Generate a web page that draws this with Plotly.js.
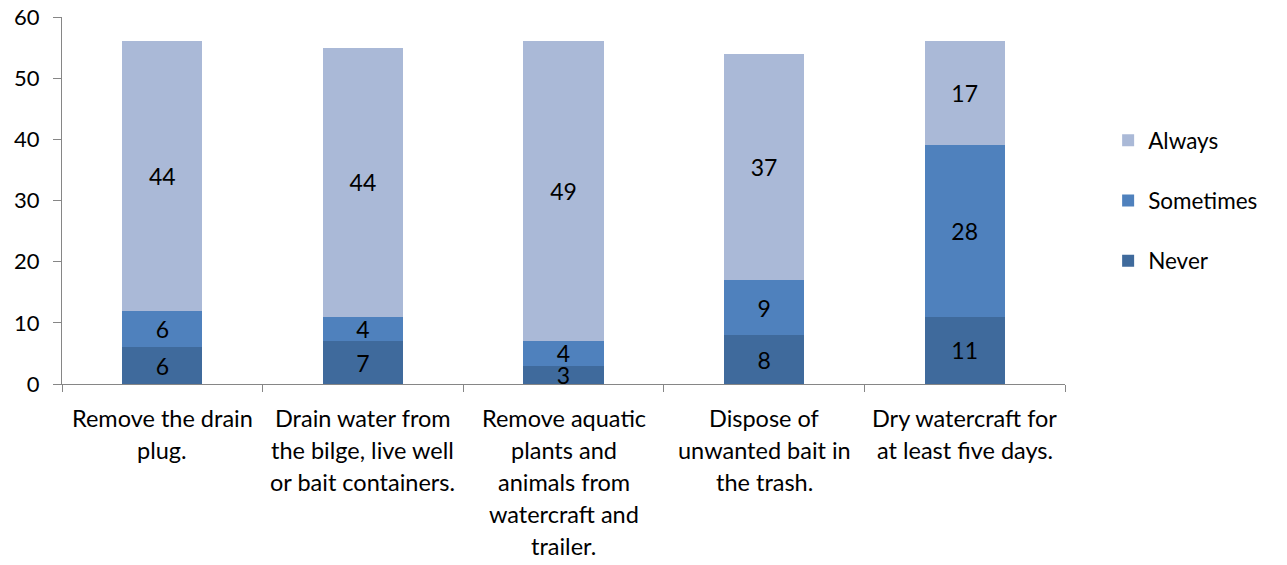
<!DOCTYPE html>
<html>
<head>
<meta charset="utf-8">
<script src="https://cdn.plot.ly/plotly-3.0.1.min.js"></script>
<style>
html,body{margin:0;padding:0;background:#fff;}
#chart{width:1287px;height:565px;}
</style>
</head>
<body>
<div id="chart"></div>
<script>
var categories = [
  "Remove the drain<br>plug.",
  "Drain water from<br>the bilge, live well<br>or bait containers.",
  "Remove aquatic<br>plants and<br>animals from<br>watercraft and<br>trailer.",
  "Dispose of<br>unwanted bait in<br>the trash.",
  "Dry watercraft for<br>at least five days."
];
var never = [6, 7, 3, 8, 11];
var sometimes = [6, 4, 4, 9, 28];
var always = [44, 44, 49, 37, 17];
var seriesNames = ["Never", "Sometimes", "Always"];
var seriesColors = ["#3F6A9C", "#4F81BD", "#AAB9D7"];
var legendRanks = [3, 2, 1];
var yTicks = [0, 10, 20, 30, 40, 50, 60];

var FONT = "Lato, 'Open Sans', sans-serif";
var catIdx = categories.map(function(_, i){ return i; });

var seriesValues = [never, sometimes, always];
var traces = seriesValues.map(function(vals, k){
  return {
    type: "bar",
    name: seriesNames[k],
    legendgroup: seriesNames[k],
    legendrank: legendRanks[k],
    x: catIdx,
    y: vals,
    width: 0.4,
    marker: {color: seriesColors[k], line: {width: 0}},
    text: vals.map(String),
    textposition: "inside",
    insidetextanchor: "middle",
    textangle: 0,
    constraintext: "none",
    textfont: {family: FONT, size: 23, color: "#000"},
    hoverinfo: "skip"
  };
});

var annotations = [];
categories.forEach(function(c, i){
  c.split("<br>").forEach(function(line, j){
    annotations.push({
      x: i, y: 0, xref: "x", yref: "y",
      text: line, showarrow: false,
      xanchor: "center", yanchor: "middle",
      yshift: -34 - 32 * j,
      font: {family: FONT, size: 23.5, color: "#000"}
    });
  });
});

var layout = {
  width: 1287, height: 565,
  margin: {l: 62, r: 222, t: 17, b: 181, pad: 0},
  paper_bgcolor: "#fff", plot_bgcolor: "#fff",
  barmode: "stack",
  bargap: 0.6,
  font: {family: FONT, size: 22, color: "#000"},
  showlegend: true,
  legend: {
    x: 1.043, y: 0.50, xanchor: "left", yanchor: "middle",
    traceorder: "grouped",
    tracegroupgap: 28,
    font: {family: FONT, size: 22.5, color: "#000"},
    bgcolor: "rgba(0,0,0,0)"
  },
  xaxis: {
    type: "linear",
    range: [-0.5, categories.length - 0.5],
    tickvals: catIdx.map(function(i){ return i - 0.5; }).concat([categories.length - 0.5]),
    showticklabels: false,
    ticks: "outside", ticklen: 7, tickwidth: 1, tickcolor: "#868686",
    showline: true, linecolor: "#868686", linewidth: 1,
    showgrid: false, zeroline: false, fixedrange: true
  },
  yaxis: {
    range: [0, 60],
    tickvals: yTicks,
    ticktext: yTicks.map(String),
    ticks: "outside", ticklen: 8, tickwidth: 1, tickcolor: "#868686",
    showline: true, linecolor: "#868686", linewidth: 1,
    showgrid: false, zeroline: false,
    tickfont: {family: FONT, size: 22, color: "#000"},
    ticklabelstandoff: 9,
    fixedrange: true
  },
  annotations: annotations
};

Plotly.newPlot("chart", traces, layout, {displayModeBar: false, staticPlot: true});
</script>
</body>
</html>
